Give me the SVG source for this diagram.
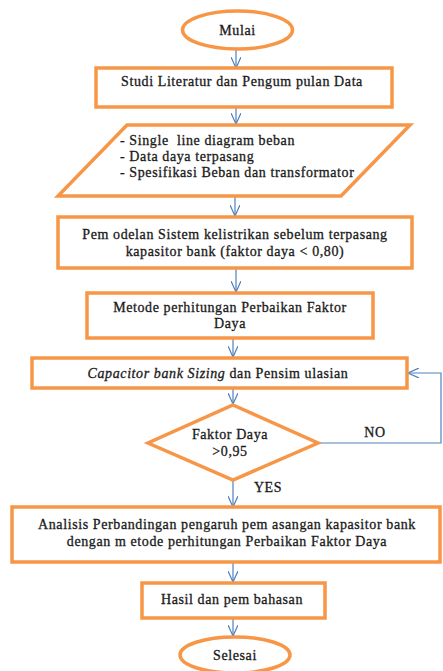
<svg xmlns="http://www.w3.org/2000/svg" width="443" height="671" viewBox="0 0 443 671">
<defs>
<marker id="ah" markerWidth="12" markerHeight="10" refX="11" refY="5" orient="auto" markerUnits="userSpaceOnUse">
<path d="M0,0 L11,5 L0,10" fill="none" stroke="#4F81BD" stroke-width="1.2"/>
</marker>
<style>
.n{fill:#fff;stroke:#F79646;stroke-width:3.5}
.t{font-family:"Liberation Serif","Times New Roman",serif;font-size:14px;fill:#1a1a1a;stroke:#1a1a1a;stroke-width:0.3;letter-spacing:0.6px;text-anchor:middle}
.l{text-anchor:start}
.c{fill:none;stroke:#4F81BD;stroke-width:1.2;marker-end:url(#ah)}
</style>
</defs>
<rect width="443" height="671" fill="#fff"/>
<g id="connectors">
<line class="c" x1="236" y1="49" x2="236" y2="68"/>
<line class="c" x1="236" y1="107" x2="236" y2="124"/>
<line class="c" x1="235" y1="196" x2="235" y2="216"/>
<line class="c" x1="236" y1="268" x2="236" y2="292"/>
<line class="c" x1="233" y1="338" x2="233" y2="357"/>
<line class="c" x1="233" y1="388" x2="233" y2="404"/>
<line class="c" x1="233" y1="480" x2="233" y2="507"/>
<line class="c" x1="233" y1="562" x2="233" y2="582"/>
<line class="c" x1="233" y1="618" x2="233" y2="636"/>
<polyline class="c" points="318,443 441,443 441,373 408,373"/>
<text class="t" x="375" y="437">NO</text>
<text class="t" x="268" y="492">YES</text>
</g>
<g id="mulai">
<ellipse class="n" cx="237.5" cy="30" rx="55" ry="19"/>
<text class="t" x="237.5" y="35">Mulai</text>
</g>
<g id="studi">
<rect class="n" x="96" y="68" width="296" height="39"/>
<text class="t" x="242" y="86">Studi Literatur dan Pengum pulan Data</text>
</g>
<g id="data">
<polygon class="n" points="127,125 410,125 341,196 58,196"/>
<text class="t l" x="120" y="145">- Single&#160; line diagram beban</text>
<text class="t l" x="120" y="161">- Data daya terpasang</text>
<text class="t l" x="120" y="177">- Spesifikasi Beban dan transformator</text>
</g>
<g id="pemodelan">
<rect class="n" x="58" y="217" width="354" height="51"/>
<text class="t" x="235" y="239">Pem odelan Sistem kelistrikan sebelum terpasang</text>
<text class="t" x="235" y="256">kapasitor bank (faktor daya &lt; 0,80)</text>
</g>
<g id="metode">
<rect class="n" x="87" y="293" width="286" height="45"/>
<text class="t" x="230" y="312">Metode perhitungan Perbaikan Faktor</text>
<text class="t" x="230" y="328">Daya</text>
</g>
<g id="sizing">
<rect class="n" x="32" y="358" width="375" height="30"/>
<text class="t" x="218" y="378"><tspan font-style="italic">Capacitor bank Sizing</tspan> dan Pensim ulasian</text>
</g>
<g id="decision">
<polygon class="n" points="233,405 318,443 233,480 148,443"/>
<text class="t" x="230" y="439">Faktor Daya</text>
<text class="t" x="230" y="456">&gt;0,95</text>
</g>
<g id="analisis">
<rect class="n" x="12" y="507" width="428" height="55"/>
<text class="t" x="227" y="529">Analisis Perbandingan pengaruh pem asangan kapasitor bank</text>
<text class="t" x="227" y="546">dengan m etode perhitungan Perbaikan Faktor Daya</text>
</g>
<g id="hasil">
<rect class="n" x="142" y="583" width="183" height="35"/>
<text class="t" x="232" y="604">Hasil dan pem bahasan</text>
</g>
<g id="selesai">
<ellipse class="n" cx="235" cy="655" rx="55" ry="18"/>
<text class="t" x="235" y="660">Selesai</text>
</g>
</svg>
